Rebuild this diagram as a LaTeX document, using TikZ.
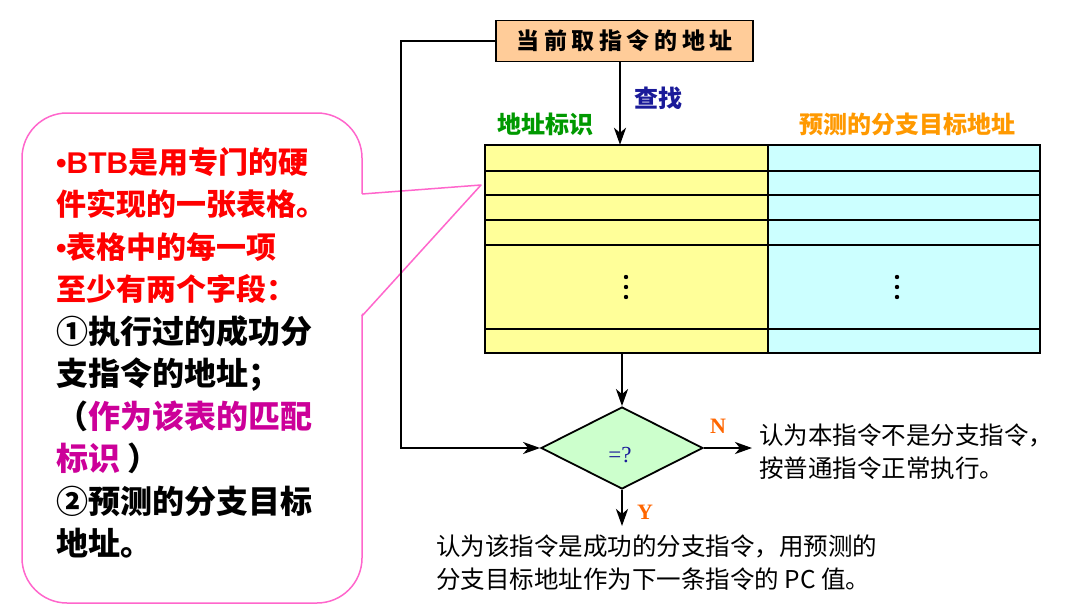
\documentclass[tikz,border=0pt]{standalone}
\usepackage{fontspec}
\setmainfont{Noto Sans CJK SC}
\newfontfamily\arialf{Liberation Sans}
\newfontfamily\tnr{Liberation Serif}
\usetikzlibrary{shapes.geometric,arrows.meta}
\definecolor{boxorange}{HTML}{FFCC99}
\definecolor{tyellow}{HTML}{FFFF99}
\definecolor{tcyan}{HTML}{CCFFFF}
\definecolor{dgreen}{HTML}{CCFFCC}
\definecolor{lblgreen}{HTML}{009900}
\definecolor{lblorange}{HTML}{FF9900}
\definecolor{ynorange}{HTML}{FF6600}
\definecolor{navyc}{HTML}{1A1A99}
\definecolor{pinkc}{HTML}{FF66CC}
\definecolor{magc}{HTML}{CC0099}
\tikzset{
  arr/.style={line width=2.6pt, -{Stealth[length=17pt,width=12pt,inset=5pt]}},
  fbline/.style={line width=2pt, -{Stealth[length=17pt,width=12pt,inset=5pt]}},
  tline/.style={line width=2.4pt},
  hdr/.style={font=\bfseries\fontsize{24}{24}\selectfont, inner sep=0},
  body/.style={font=\fontsize{24.5}{33}\selectfont, align=left, inner sep=0},
}
\newcommand{\chsp}{\hspace{4.6pt}}
\newcommand{\rl}[1]{{\fontsize{30}{42.5}\selectfont\color{red}#1}}
\begin{document}
\begin{tikzpicture}[x=1pt,y=-1pt]
\fill[white] (0,0) rectangle (1066,613);
\useasboundingbox (0,0) rectangle (1066,613);

% callout
\draw[pinkc, line width=1.5pt, fill=white, rounded corners=45pt] (22,113) rectangle (362,603);
\fill[white] (360,194) -- (481,185) -- (360,316) -- cycle;
\draw[pinkc, line width=1.5pt, line join=round] (362,194) -- (481,185) -- (362,316);
\node[anchor=north west, align=left, inner sep=0,
      font=\bfseries\fontsize{32}{42.5}\selectfont] (note) at (56,147) {%
\rl{{\arialf\bfseries •BTB}是用专门的硬}\\
\rl{件实现的一张表格。}\\
\rl{{\arialf\bfseries •}表格中的每一项}\\
\rl{至少有两个字段：}\\
①执行过的成功分\\
支指令的地址；\\
（\textcolor{magc}{作为该表的匹配}\\
\textcolor{magc}{标识}\ ）\\
②预测的分支目标\\
地址。};

% top box
\node[draw, line width=1.8pt, fill=boxorange, minimum width=257pt, minimum height=41pt,
      inner sep=0, font=\bfseries\fontsize{23}{23}\selectfont] (addr) at (624.5,41)
      {当\chsp 前\chsp 取\chsp 指\chsp 令\chsp 的\chsp 地\chsp 址};

% table
\node[minimum width=555pt, minimum height=208pt, inner sep=0] (tbl) at (762.5,249) {};
\fill[tyellow] (485,145) rectangle (768,353);
\fill[tcyan] (768,145) rectangle (1040,353);
\foreach \yy in {171,195,220,245,329} \draw[tline] (485,\yy) -- (1040,\yy);
\draw[tline] (768,145) -- (768,353);
\draw[tline] (485,145) rectangle (1040,353);
\foreach \xx in {626,897} \foreach \yy in {277,287,297} \fill (\xx,\yy) circle (2.2pt);

% headers
\node[hdr, text=lblgreen] (h1) at (545,124) {地址标识};
\node[hdr, text=lblorange] (h2) at (907,124) {预测的分支目标地址};
\node[hdr, text=navyc] (find) at (658,98) {查找};

% diamond
\node[diamond, draw, line width=1.8pt, fill=dgreen, minimum width=162pt, minimum height=82pt,
      inner sep=0, shape aspect=2] (dia) at (622,448) {};
\node[inner sep=0, text=navyc, font=\tnr\fontsize{23}{23}\selectfont] (dq) at (620,455) {=?};

\coordinate (colx) at (620,0);
\coordinate (fb) at (401,200);
\coordinate (yend) at (622,526);

\draw[arr] (addr.south -| colx) -- (tbl.north -| colx);
\draw[arr] (tbl.south -| dia.north) -- (dia.north);
\draw[fbline] (addr.west) -| (fb) |- (dia.west);

% outputs
\node[body, anchor=west, inner xsep=7pt] (ntext) at (752,452) {认为本指令不是分支指令，\\按普通指令正常执行。};
\draw[arr] (dia.east) -- (dia.east -| ntext.west);
\node[inner sep=0, text=ynorange, font=\tnr\bfseries\fontsize{22}{22}\selectfont] (nl) at (718,426) {N};

\draw[arr] (dia.south) -- (yend);
\node[inner sep=0, text=ynorange, font=\tnr\bfseries\fontsize{22}{22}\selectfont] (yl) at (645,512) {Y};
\node[body, anchor=north west] (ytext) at (436,535) {认为该指令是成功的分支指令，用预测的\\分支目标地址作为下一条指令的 PC 值。};
\end{tikzpicture}
\end{document}
